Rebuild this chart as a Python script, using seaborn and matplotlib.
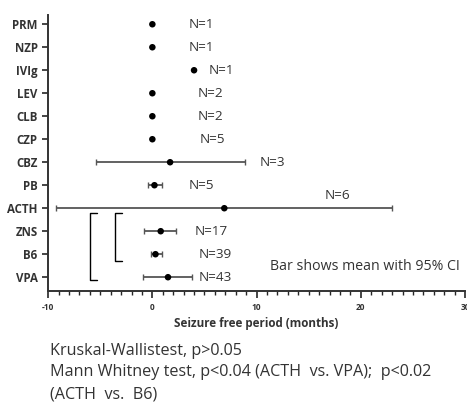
import numpy as np
import pandas as pd
import seaborn as sns
import matplotlib.pyplot as plt

# summary values (mean with 95% CI, months)
drugs = ["PRM", "NZP", "IVIg", "LEV", "CLB", "CZP", "CBZ", "PB", "ACTH", "ZNS", "B6", "VPA"]
means = [0, 0, 4.0, 0, 0, 0, 1.7, 0.2, 6.9, 0.8, 0.3, 1.5]
ci_low = [0, 0, 4.0, 0, 0, 0, -5.4, -0.4, -9.2, -0.8, -0.1, -0.9]
ci_high = [0, 0, 4.0, 0, 0, 0, 8.9, 0.9, 23.0, 2.3, 0.95, 3.8]
n_labels = ["N=1", "N=1", "N=1", "N=2", "N=2", "N=5", "N=3", "N=5", "N=6", "N=17", "N=39", "N=43"]
n_xpos = [3.5, 3.5, 5.4, 4.3, 4.3, 4.5, 10.3, 3.5, 16.5, 4.1, 4.4, 4.4]

df = pd.DataFrame({"drug": drugs, "mean": means, "lo": ci_low, "hi": ci_high})
df["pos"] = np.arange(len(df))

sns.set_style("ticks")
plt.rcParams["font.family"] = ["Open Sans", "DejaVu Sans"]

fig = plt.figure(figsize=(4.67, 4.07), dpi=100)
ax = fig.add_axes([0.103, 0.285, 0.893, 0.678])

# confidence interval bars
has_ci = df["hi"] > df["lo"]
sub = df[has_ci]
ax.errorbar(sub["mean"], sub["pos"],
            xerr=[sub["mean"] - sub["lo"], sub["hi"] - sub["mean"]],
            fmt="none", ecolor="#555555", elinewidth=1.3, capsize=2.5, capthick=1.0, zorder=2)

# means
sns.scatterplot(data=df, x="mean", y="pos", color="black", s=22, edgecolor="none", ax=ax, zorder=3)

# N labels
for i, (lab, xp) in enumerate(zip(n_labels, n_xpos)):
    yoff = -0.55 if drugs[i] == "ACTH" else 0
    ax.text(xp, i + yoff, lab, fontsize=9.7, va="center", ha="left", color="#333333")

# comparison brackets
def bracket(x, y0, y1, w=0.7):
    ax.plot([x + w, x, x, x + w], [y0, y0, y1, y1], color="black", lw=1.0)

bracket(-6.0, 8.2, 11.1)
bracket(-3.6, 8.2, 10.3)

ax.text(29.5, 10.55, "Bar shows mean with 95% CI", fontsize=10.2, ha="right", va="center", color="#333333")

ax.set_xlim(-10, 30)
ax.set_ylim(11.6, -0.4)
ax.set_yticks(df["pos"])
ax.set_yticklabels(df["drug"], fontsize=8.3, fontweight="bold", color="#333333")
ax.set_xticks([-10, 0, 10, 20, 30])
ax.set_xticklabels(["-10", "0", "10", "20", "30"], fontsize=6, fontweight="bold", color="#333333")
ax.set_xticks(np.arange(-10, 31, 1), minor=True)
ax.tick_params(axis="x", which="major", length=5, width=1.2, direction="out")
ax.tick_params(axis="x", which="minor", length=3, width=1.0, direction="out")
ax.tick_params(axis="y", length=4, width=1.2)
ax.set_xlabel("Seizure free period (months)", fontsize=8.4, fontweight="bold", color="#333333", labelpad=4)
ax.set_ylabel("")
for side in ["left", "bottom"]:
    ax.spines[side].set_linewidth(1.4)
    ax.spines[side].set_color("#333333")
sns.despine(ax=ax)

fig.text(0.107, 0.138, "Kruskal-Wallistest, p>0.05", fontsize=11.6, color="#333333", va="center")
fig.text(0.107, 0.086, "Mann Whitney test, p<0.04 (ACTH  vs. VPA);  p<0.02", fontsize=11.6, color="#333333", va="center")
fig.text(0.107, 0.030, "(ACTH  vs.  B6)", fontsize=11.6, color="#333333", va="center")

fig.savefig("out.png", dpi=100)
